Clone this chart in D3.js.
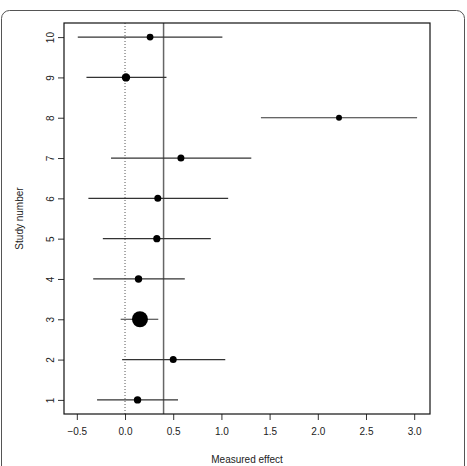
<!DOCTYPE html>
<html>
<head>
<meta charset="utf-8">
<script src="https://cdn.jsdelivr.net/npm/d3@7"></script>
<style>
  body { margin: 0; background: #fff; }
  svg text { font-family: "Liberation Sans", Arial, sans-serif; }
</style>
</head>
<body>
<div id="chart"></div>
<script>
// forest plot data
var studies = [1, 2, 3, 4, 5, 6, 7, 8, 9, 10]
var effect = [0.13, 0.50, 0.155, 0.14, 0.33, 0.34, 0.58, 2.22, 0.01, 0.26]
var lower = [-0.29, -0.03, -0.045, -0.33, -0.23, -0.38, -0.145, 1.41, -0.40, -0.49]
var upper = [0.55, 1.04, 0.345, 0.62, 0.89, 1.07, 1.31, 3.03, 0.43, 1.01]
var dotSize = [3.7, 3.5, 8, 3.7, 3.6, 3.5, 3.5, 3, 4.2, 3.4]
var xTicks = [-0.5, 0.0, 0.5, 1.0, 1.5, 2.0, 2.5, 3.0]
var pooled = 0.40

var W = 467, H = 466
var margin = { top: 23, right: 37, bottom: 52, left: 64 },
    width = W - margin.left - margin.right,
    height = H - margin.top - margin.bottom

var svg = d3.select("#chart")
    .append("svg")
    .attr("width", W)
    .attr("height", H)

// outer rounded frame
svg.append("rect")
    .attr("x", 1.5).attr("y", 10.5)
    .attr("width", 463).attr("height", 480)
    .attr("rx", 8)
    .attr("fill", "none")
    .attr("stroke", "#555")
    .attr("stroke-width", 1)

var g = svg.append("g")
    .attr("transform", "translate(" + margin.left + "," + margin.top + ")")

var x = d3.scaleLinear()
    .domain([-0.633, 3.164])
    .range([0, width])

var y = d3.scaleLinear()
    .domain([0.65, 10.35])
    .range([height, 0])

// x axis
var xAxis = g.append("g")
    .attr("transform", "translate(0," + height + ")")
    .call(d3.axisBottom(x).tickValues(xTicks).tickFormat(d3.format(".1f")).tickSize(6).tickPadding(8))
xAxis.select(".domain").remove()
xAxis.selectAll("line").attr("stroke", "#333")
xAxis.selectAll("text").attr("font-size", 10).attr("fill", "#222")
xAxis.selectAll("text").text(function (d) { return d < 0 ? "\u2212" + d3.format(".1f")(-d) : d3.format(".1f")(d) })

// y axis
var yAxis = g.append("g")
    .call(d3.axisLeft(y).tickValues(studies).tickSize(6).tickPadding(0))
yAxis.select(".domain").remove()
yAxis.selectAll("line").attr("stroke", "#333")
yAxis.selectAll("text")
    .attr("font-size", 10)
    .attr("fill", "#222")
    .attr("x", null).attr("dy", null)
    .attr("text-anchor", "middle")
    .attr("transform", "translate(-14,0) rotate(-90)")
    .attr("dy", "0.35em")

// reference lines
g.append("line")
    .attr("x1", x(0)).attr("x2", x(0))
    .attr("y1", 0).attr("y2", height)
    .attr("stroke", "#555")
    .attr("stroke-dasharray", "1,2")
g.append("line")
    .attr("x1", x(pooled)).attr("x2", x(pooled))
    .attr("y1", 0).attr("y2", height)
    .attr("stroke", "#666")
    .attr("stroke-width", 1.5)

// confidence intervals
g.selectAll(".ci")
    .data(studies)
    .enter().append("line")
    .attr("class", "ci")
    .attr("x1", function (d, i) { return x(lower[i]) })
    .attr("x2", function (d, i) { return x(upper[i]) })
    .attr("y1", function (d) { return y(d) })
    .attr("y2", function (d) { return y(d) })
    .attr("stroke", "#333")
    .attr("stroke-width", 1.2)

// point estimates
g.selectAll(".pt")
    .data(studies)
    .enter().append("circle")
    .attr("class", "pt")
    .attr("cx", function (d, i) { return x(effect[i]) })
    .attr("cy", function (d) { return y(d) })
    .attr("r", function (d, i) { return dotSize[i] })
    .attr("fill", "#000")

// plot box
g.append("rect")
    .attr("x", 0).attr("y", 0)
    .attr("width", width).attr("height", height)
    .attr("fill", "none")
    .attr("stroke", "#111")
    .attr("stroke-width", 1.2)

// axis titles
svg.append("text")
    .attr("x", margin.left + width / 2)
    .attr("y", 463)
    .attr("text-anchor", "middle")
    .attr("font-size", 10)
    .attr("fill", "#222")
    .text("Measured effect")
svg.append("text")
    .attr("transform", "translate(23," + (margin.top + height / 2) + ") rotate(-90)")
    .attr("text-anchor", "middle")
    .attr("font-size", 10)
    .attr("fill", "#222")
    .text("Study number")
</script>
</body>
</html>
